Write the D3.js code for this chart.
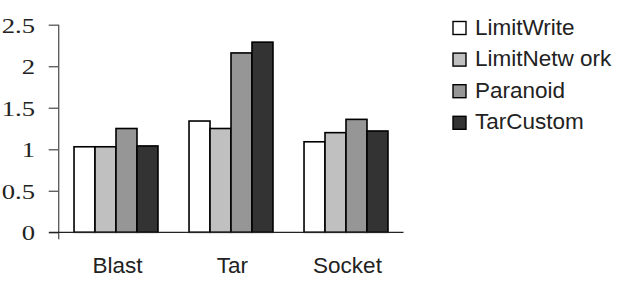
<!DOCTYPE html>
<html>
<head>
<meta charset="utf-8">
<script src="https://cdn.jsdelivr.net/npm/d3@7"></script>
<style>
  body { margin: 0; background: #fff; }
  svg { display: block; }
</style>
</head>
<body>
<div id="chart"></div>
<script>
// data
var categories = ["Blast", "Tar", "Socket"];
var seriesNames = ["LimitWrite", "LimitNetw ork", "Paranoid", "TarCustom"];
var limitWrite = [1.03, 1.34, 1.09];
var limitNetwork = [1.03, 1.25, 1.20];
var paranoid = [1.25, 2.16, 1.36];
var tarCustom = [1.04, 2.29, 1.22];
var yTicks = [0, 0.5, 1, 1.5, 2, 2.5];
var yTickLabels = ["0", "0.5", "1", "1.5", "2", "2.5"];

var seriesValues = [limitWrite, limitNetwork, paranoid, tarCustom];
var fills = ["#ffffff", "#c0c0c0", "#969696", "#333333"];

var svgWidth = 618;
var svgHeight = 281;

var svg = d3.select("#chart")
    .append("svg")
    .attr("width", svgWidth)
    .attr("height", svgHeight);

// scales
var x0 = d3.scaleBand()
    .domain(categories)
    .range([58.5, 403.5])
    .paddingInner(0.27)
    .paddingOuter(0.135);

var x1 = d3.scaleBand()
    .domain(seriesNames)
    .range([0, x0.bandwidth()]);

var y = d3.scaleLinear()
    .domain([0, 2.5])
    .range([232.3, 24.7]);

// bars
var groups = svg.selectAll(".group")
    .data(categories)
    .enter()
    .append("g")
    .attr("class", "group")
    .attr("transform", function (d) { return "translate(" + x0(d) + ",0)"; });

groups.selectAll("rect")
    .data(function (d, i) {
        return seriesNames.map(function (s, j) {
            return { name: s, value: seriesValues[j][i], idx: j };
        });
    })
    .enter()
    .append("rect")
    .attr("x", function (d) { return x1(d.name); })
    .attr("y", function (d) { return y(d.value); })
    .attr("width", x1.bandwidth())
    .attr("height", function (d) { return y(0) - y(d.value); })
    .attr("fill", function (d) { return fills[d.idx]; })
    .attr("stroke", "#000")
    .attr("stroke-width", 1.6);

// y axis
var leftAxis = d3.axisLeft(y)
    .tickValues(yTicks)
    .tickFormat(function (d, i) { return yTickLabels[i]; })
    .tickSize(10)
    .tickSizeOuter(0);

var yAxisG = svg.append("g")
    .attr("transform", "translate(58.7,0)")
    .call(leftAxis);

yAxisG.select(".domain").remove();
yAxisG.selectAll(".tick line").attr("stroke", "#555").attr("stroke-width", 1.3);
yAxisG.selectAll(".tick text")
    .attr("font-family", "'Liberation Serif', 'Times New Roman', serif")
    .attr("font-size", "20.5px")
    .attr("fill", "#222")
    .attr("text-anchor", "end")
    .attr("dy", "0.36em")
    .attr("x", -23.7 / 1.3)
    .attr("transform", "scale(1.3,1)");

// vertical axis line, runs a little below the baseline
svg.append("line")
    .attr("x1", 58.7).attr("x2", 58.7)
    .attr("y1", y(2.5)).attr("y2", y(0) + 7)
    .attr("stroke", "#555")
    .attr("stroke-width", 1.3);

// baseline
svg.append("line")
    .attr("x1", 49).attr("x2", x0.range()[1])
    .attr("y1", y(0)).attr("y2", y(0))
    .attr("stroke", "#222")
    .attr("stroke-width", 1.3);

// category labels
svg.selectAll(".cat")
    .data(categories)
    .enter()
    .append("text")
    .attr("class", "cat")
    .attr("x", function (d) { return x0(d) + x0.bandwidth() / 2 + 1.5; })
    .attr("y", 273.3)
    .attr("text-anchor", "middle")
    .attr("font-family", "'Liberation Sans', Arial, sans-serif")
    .attr("font-size", "22.5px")
    .attr("fill", "#222")
    .text(function (d) { return d; });

// legend
var legend = svg.selectAll(".legend")
    .data(seriesNames)
    .enter()
    .append("g")
    .attr("class", "legend")
    .attr("transform", function (d, i) { return "translate(453," + (21.5 + i * 31.6) + ")"; });

legend.append("rect")
    .attr("width", 13)
    .attr("height", 13)
    .attr("fill", function (d, i) { return fills[i]; })
    .attr("stroke", "#000")
    .attr("stroke-width", 1.4);

legend.append("text")
    .attr("x", 22)
    .attr("y", 13)
    .attr("font-family", "'Liberation Sans', Arial, sans-serif")
    .attr("font-size", "22.5px")
    .attr("fill", "#222")
    .text(function (d) { return d; });
</script>
</body>
</html>
